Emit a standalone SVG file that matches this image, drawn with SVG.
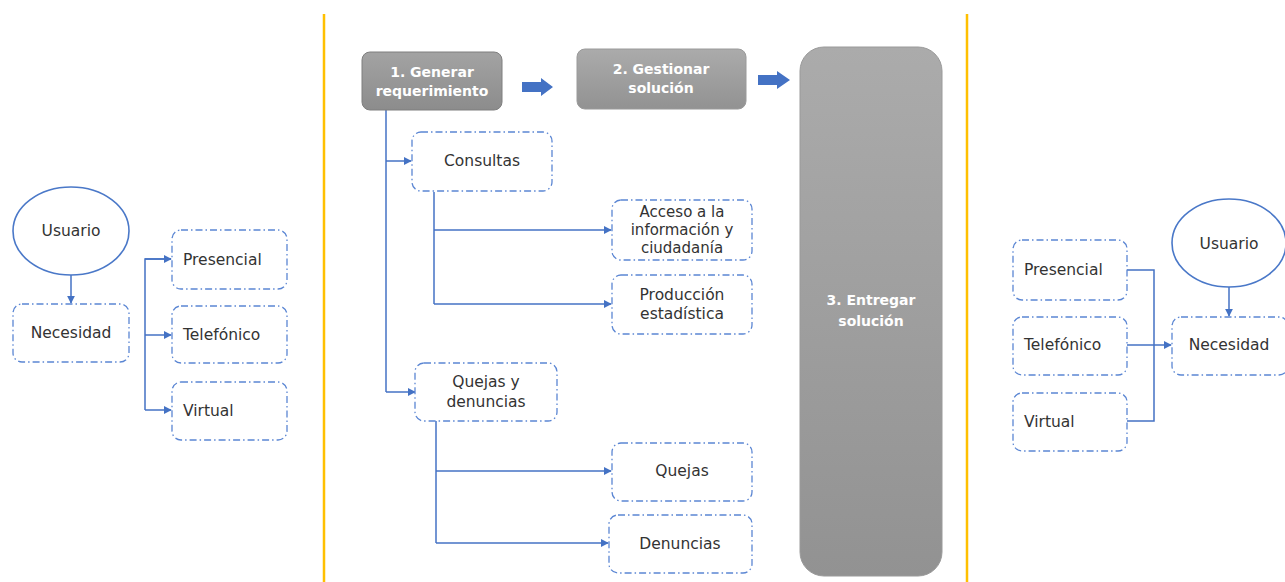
<svg xmlns="http://www.w3.org/2000/svg" width="1285" height="582" viewBox="0 0 1285 582">
  <style>
    .box { fill: #ffffff; stroke: #5b86d3; stroke-width: 1.3; stroke-dasharray: 7 3 1.5 3; }
    .oval { fill: #ffffff; stroke: #4a78c8; stroke-width: 1.6; }
    .lbl { font-family: "DejaVu Sans", "Liberation Sans", sans-serif; font-size: 15.5px; fill: #333333; }
    .small { font-size: 15px; }
    .mid { text-anchor: middle; }
    .step { font-family: "DejaVu Sans", "Liberation Sans", sans-serif; font-size: 14px; font-weight: bold; fill: #ffffff; text-anchor: middle; }
    .wire { fill: none; stroke: #4472c4; stroke-width: 1.5; }
    .divider { stroke: #ffc000; stroke-width: 2.5; }
    .block { fill: #4472c4; }
  </style>
  <defs>
    <marker id="tip" viewBox="0 0 10 10" refX="9" refY="5" markerWidth="8" markerHeight="8" markerUnits="userSpaceOnUse" orient="auto">
      <path d="M0,0 L10,5 L0,10 z" fill="#4472c4"/>
    </marker>
    <linearGradient id="grayA" x1="0" y1="0" x2="0" y2="1">
      <stop offset="0" stop-color="#a3a3a3"/>
      <stop offset="1" stop-color="#8c8c8c"/>
    </linearGradient>
    <linearGradient id="grayB" x1="0" y1="0" x2="0" y2="1">
      <stop offset="0" stop-color="#ababab"/>
      <stop offset="1" stop-color="#929292"/>
    </linearGradient>
  </defs>

  <!-- section dividers -->
  <line class="divider" x1="324" y1="14" x2="324" y2="582"/>
  <line class="divider" x1="967" y1="14" x2="967" y2="582"/>

  <!-- connectors -->
  <g id="connectors">
    <!-- left: user to need, channels bracket -->
    <line class="wire" x1="71" y1="275" x2="71" y2="303" marker-end="url(#tip)"/>
    <path class="wire" d="M171,259 H145 V410"/>
    <line class="wire" x1="145" y1="259" x2="171" y2="259" marker-end="url(#tip)"/>
    <line class="wire" x1="145" y1="335" x2="171" y2="335" marker-end="url(#tip)"/>
    <line class="wire" x1="145" y1="410" x2="171" y2="410" marker-end="url(#tip)"/>

    <!-- middle: requirement tree -->
    <path class="wire" d="M386,110 V392"/>
    <line class="wire" x1="386" y1="161" x2="411" y2="161" marker-end="url(#tip)"/>
    <line class="wire" x1="386" y1="392" x2="415" y2="392" marker-end="url(#tip)"/>
    <path class="wire" d="M434,192 V304"/>
    <line class="wire" x1="434" y1="230" x2="611" y2="230" marker-end="url(#tip)"/>
    <line class="wire" x1="434" y1="304" x2="611" y2="304" marker-end="url(#tip)"/>
    <path class="wire" d="M436,421 V543"/>
    <line class="wire" x1="436" y1="471" x2="611" y2="471" marker-end="url(#tip)"/>
    <line class="wire" x1="436" y1="543" x2="608" y2="543" marker-end="url(#tip)"/>

    <!-- block arrows between steps -->
    <path class="block" d="M522,82 H541 V78 L553,87 L541,96 V92 H522 z"/>
    <path class="block" d="M758,75 H777 V71 L790,80 L777,89 V85 H758 z"/>

    <!-- right: channels to need -->
    <path class="wire" d="M1127,270 H1154 V421 H1127"/>
    <line class="wire" x1="1127" y1="345" x2="1171" y2="345" marker-end="url(#tip)"/>
    <line class="wire" x1="1229" y1="287" x2="1229" y2="316" marker-end="url(#tip)"/>
  </g>

  <!-- left section -->
  <g id="usuario-left">
    <ellipse class="oval" cx="71" cy="231" rx="58" ry="44"/>
    <text class="lbl mid" x="71" y="236">Usuario</text>
  </g>
  <g id="necesidad-left">
    <rect class="box" x="13" y="304" width="116" height="58" rx="9"/>
    <text class="lbl mid" x="71" y="338">Necesidad</text>
  </g>
  <g id="presencial-left">
    <rect class="box" x="172" y="230" width="115" height="59" rx="9"/>
    <text class="lbl" x="183" y="265">Presencial</text>
  </g>
  <g id="telefonico-left">
    <rect class="box" x="172" y="306" width="115" height="57" rx="9"/>
    <text class="lbl" x="183" y="340">Telefónico</text>
  </g>
  <g id="virtual-left">
    <rect class="box" x="172" y="382" width="115" height="58" rx="9"/>
    <text class="lbl" x="183" y="416">Virtual</text>
  </g>

  <!-- middle section: process steps -->
  <g id="paso-1">
    <rect x="362" y="52" width="140" height="58" rx="8" fill="url(#grayA)" stroke="#7f7f7f" stroke-width="1"/>
    <text class="step" x="432" y="77">1. Generar</text>
    <text class="step" x="432" y="96">requerimiento</text>
  </g>
  <g id="paso-2">
    <rect x="577" y="49" width="169" height="60" rx="8" fill="url(#grayB)" stroke="#9a9a9a" stroke-width="1"/>
    <text class="step" x="661" y="74">2. Gestionar</text>
    <text class="step" x="661" y="93">solución</text>
  </g>
  <g id="paso-3">
    <rect x="800" y="47" width="142" height="529" rx="24" fill="url(#grayB)" stroke="#9a9a9a" stroke-width="1"/>
    <text class="step" x="871" y="305">3. Entregar</text>
    <text class="step" x="871" y="326">solución</text>
  </g>

  <g id="consultas">
    <rect class="box" x="412" y="132" width="140" height="59" rx="9"/>
    <text class="lbl mid" x="482" y="166">Consultas</text>
  </g>
  <g id="acceso">
    <rect class="box" x="612" y="200" width="140" height="60" rx="9"/>
    <text class="lbl small mid" x="682" y="217">Acceso a la</text>
    <text class="lbl small mid" x="682" y="235">información y</text>
    <text class="lbl small mid" x="682" y="253">ciudadanía</text>
  </g>
  <g id="produccion">
    <rect class="box" x="612" y="275" width="140" height="59" rx="9"/>
    <text class="lbl mid" x="682" y="300">Producción</text>
    <text class="lbl mid" x="682" y="319">estadística</text>
  </g>
  <g id="quejas-denuncias">
    <rect class="box" x="415" y="363" width="142" height="58" rx="9"/>
    <text class="lbl mid" x="486" y="387">Quejas y</text>
    <text class="lbl mid" x="486" y="407">denuncias</text>
  </g>
  <g id="quejas">
    <rect class="box" x="612" y="443" width="140" height="58" rx="9"/>
    <text class="lbl mid" x="682" y="476">Quejas</text>
  </g>
  <g id="denuncias">
    <rect class="box" x="609" y="515" width="143" height="58" rx="9"/>
    <text class="lbl mid" x="680" y="549">Denuncias</text>
  </g>

  <!-- right section -->
  <g id="presencial-right">
    <rect class="box" x="1013" y="240" width="114" height="60" rx="9"/>
    <text class="lbl" x="1024" y="275">Presencial</text>
  </g>
  <g id="telefonico-right">
    <rect class="box" x="1013" y="317" width="114" height="58" rx="9"/>
    <text class="lbl" x="1024" y="350">Telefónico</text>
  </g>
  <g id="virtual-right">
    <rect class="box" x="1013" y="393" width="114" height="58" rx="9"/>
    <text class="lbl" x="1024" y="427">Virtual</text>
  </g>
  <g id="usuario-right">
    <ellipse class="oval" cx="1229" cy="243" rx="57" ry="44"/>
    <text class="lbl mid" x="1229" y="249">Usuario</text>
  </g>
  <g id="necesidad-right">
    <rect class="box" x="1172" y="317" width="116" height="58" rx="9"/>
    <text class="lbl mid" x="1229" y="350">Necesidad</text>
  </g>
</svg>
